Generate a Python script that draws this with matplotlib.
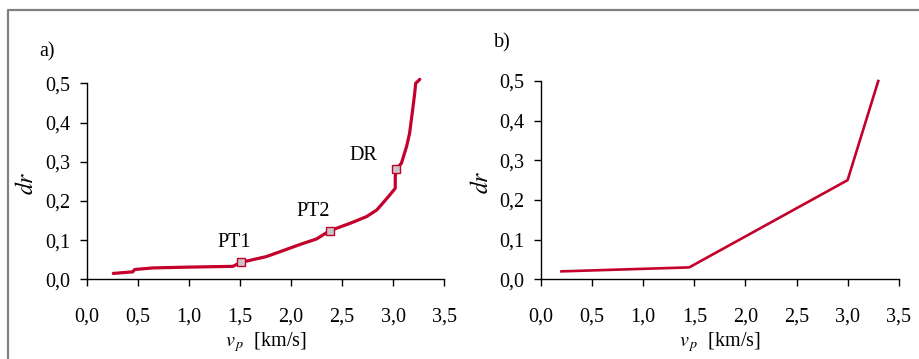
import matplotlib
matplotlib.use("Agg")
import matplotlib.pyplot as plt
from matplotlib.lines import Line2D

plt.rcParams["font.family"] = ["Liberation Serif", "DejaVu Serif"]
plt.rcParams["mathtext.fontset"] = "stix"

RED = "#C4002C"
FRAME = "#808080"

# --- data -------------------------------------------------------------
# panel a: measured dr(vp) curve
VP_A = [0.26, 0.45, 0.47, 0.65, 0.98, 1.43, 1.507, 1.76, 1.92, 2.09, 2.25,
        2.38, 2.58, 2.74, 2.84, 2.94, 3.02, 3.02, 3.03, 3.08, 3.13, 3.16,
        3.19, 3.21, 3.22, 3.26]
DR_A = [0.015, 0.019, 0.025, 0.029, 0.031, 0.033, 0.043, 0.058, 0.073,
        0.089, 0.103, 0.124, 0.143, 0.160, 0.177, 0.207, 0.232, 0.262, 0.281,
        0.296, 0.338, 0.372, 0.432, 0.474, 0.500, 0.510]

# marked points on curve a
MARK_NAMES = ["PT1", "PT2", "DR"]
MARK_VP = [1.507, 2.38, 3.03]
MARK_DR = [0.043, 0.124, 0.281]

# panel b: piecewise linear model
VP_B = [0.2, 1.45, 3.0, 3.3]
DR_B = [0.02, 0.03, 0.25, 0.5]

XTICKS = [0.0, 0.5, 1.0, 1.5, 2.0, 2.5, 3.0, 3.5]
YTICKS = [0.0, 0.1, 0.2, 0.3, 0.4, 0.5]

# --- layout (pixels, figure 919 x 359) -------------------------------------
W, H = 919, 359
fig = plt.figure(figsize=(W / 100, H / 100), dpi=100)


def px_axes(x0, x1, ytop, ybot):
    return fig.add_axes([x0 / W, (H - ybot) / H, (x1 - x0) / W, (ybot - ytop) / H])


def fmt(v):
    return f"{v:.1f}".replace(".", ",")


def style(ax):
    ax.set_xlim(0, 3.5)
    ax.set_ylim(0, 0.5)
    ax.set_xticks(XTICKS)
    ax.set_xticklabels([fmt(v) for v in XTICKS])
    ax.set_yticks(YTICKS)
    ax.set_yticklabels([fmt(v) for v in YTICKS])
    for s in ("top", "right"):
        ax.spines[s].set_visible(False)
    for s in ("left", "bottom"):
        ax.spines[s].set_linewidth(1.0)
        ax.spines[s].set_clip_on(False)
    ax.tick_params(axis="x", direction="out", length=5, width=1.0, pad=15,
                   labelsize=14.5)
    ax.tick_params(axis="y", direction="out", length=5, width=1.0, pad=7,
                   labelsize=14.5)
    ax.patch.set_alpha(0)
    ax.set_xlabel(r"$v_{\,p}$  [km/s]", fontsize=14.5, labelpad=3)
    ax.set_ylabel(r"$dr$", fontsize=17)
    ax.yaxis.set_label_coords(-0.135, 0.49)


ax_a = px_axes(86.7, 444.3, 83.3, 279.3)
ax_b = px_axes(541, 898.7, 81, 279.3)

style(ax_a)
style(ax_b)

ax_a.plot(VP_A, DR_A, color=RED, lw=2.3, solid_capstyle="round", clip_on=False)
ax_a.plot(MARK_VP, MARK_DR, ls="none", marker="s", ms=6, mfc="#C8C8C8",
          mec=RED, mew=1.0, zorder=5)
offsets = [(-5, 14), (-12, 13.5), (-24, 10)]
for name, x, y, off in zip(MARK_NAMES, MARK_VP, MARK_DR, offsets):
    ax_a.annotate(name, (x, y), xytext=off, textcoords="offset points",
                  ha="center", va="center", fontsize=14.5)

ax_b.plot(VP_B, DR_B, color=RED, lw=1.9, clip_on=False)

# panel letters
fig.text(47 / W, 1 - 52 / H, "a)", fontsize=14.5, ha="center", va="center")
fig.text(502 / W, 1 - 43 / H, "b)", fontsize=14.5, ha="center", va="center")

# outer frame (top and left)
fig.add_artist(Line2D([8 / W, 8 / W, 1.0], [0.0, 1 - 10 / H, 1 - 10 / H],
                      transform=fig.transFigure, color=FRAME, lw=1.6))

fig.savefig("out.png", dpi=100)
